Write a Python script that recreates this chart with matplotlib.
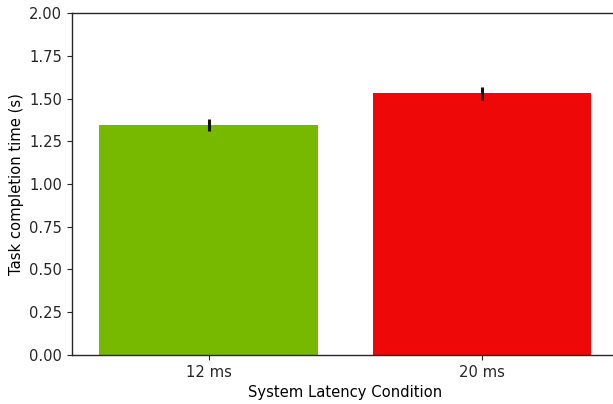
import matplotlib
matplotlib.use('Agg')
import matplotlib.pyplot as plt

conditions = ['12 ms', '20 ms']
mean_time = [1.346, 1.530]
err_time = [0.034, 0.038]
bar_colors = ['#77b900', '#ee0808']

plt.rcParams['font.size'] = 10.6
plt.rcParams['axes.edgecolor'] = '#262626'
plt.rcParams['axes.linewidth'] = 1.0

fig = plt.figure(figsize=(6.13, 4.04), dpi=100)
ax = fig.add_axes([0.1175, 0.1213, 0.892, 0.8465])

ax.bar(range(len(conditions)), mean_time, width=0.8, color=bar_colors,
       yerr=err_time, error_kw=dict(ecolor='#111111', elinewidth=2.2, capsize=0))

ax.set_xlim(-0.5, 1.5)
ax.set_ylim(0, 2.0)
ax.set_yticks([0, 0.25, 0.5, 0.75, 1.0, 1.25, 1.5, 1.75, 2.0])
ax.set_xticks(range(len(conditions)))
ax.set_xticklabels(conditions)
ax.tick_params(colors='#262626')
ax.set_xlabel('System Latency Condition')
ax.set_ylabel('Task completion time (s)')
ax.spines['right'].set_visible(False)

fig.savefig('out.png', dpi=100)
